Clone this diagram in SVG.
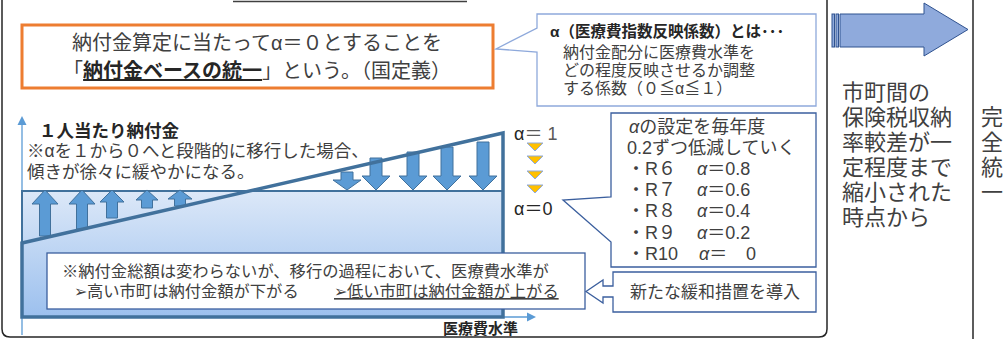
<svg xmlns="http://www.w3.org/2000/svg" width="1008" height="339" viewBox="0 0 1008 339">
<defs>
<linearGradient id="gfill" x1="0" y1="0" x2="0" y2="1">
<stop offset="0" stop-color="#dce8f8"/>
<stop offset="1" stop-color="#9cc0ee"/>
</linearGradient>
<style>
.t{font-family:"Liberation Sans","Noto Sans CJK JP",sans-serif;fill:#404040}
.b{font-weight:bold}
.dk{fill:#262626}
.arr{fill:#5b9bd5;stroke:#41719c;stroke-width:1}
.tri{fill:#ffc000;stroke:#8faadc;stroke-width:1}
.frame{fill:none;stroke:#262626;stroke-width:1.5}
</style>
</defs>
<rect width="1008" height="339" fill="#ffffff"/>

<!-- frames -->
<g id="frames">
<path class="frame" d="M2,-5 V329 Q2,337 10,337 H819 Q827,337 827,329 V-5"/>
<line x1="973" y1="-5" x2="973" y2="345" stroke="#262626" stroke-width="1.5"/>
<line x1="233" y1="1.5" x2="467" y2="1.5" stroke="#404040" stroke-width="1.5"/>
</g>

<!-- definition box -->
<g id="definition">
<rect x="22" y="25" width="471" height="63" fill="#ffffff" stroke="#ed7d31" stroke-width="3"/>
<text class="t" x="257" y="50" font-size="20" text-anchor="middle">納付金算定に当たってα＝０とすることを</text>
<text class="t" x="257" y="78" font-size="20" text-anchor="middle">「<tspan class="b dk" text-decoration="underline">納付金ベースの統一</tspan>」という。（国定義）</text>
</g>

<!-- alpha callout -->
<g id="alpha-callout">
<path d="M537,14 H816 V106 H537 V52 L496,49 L537,28 Z" fill="#ffffff" stroke="#8ea9db" stroke-width="1.3"/>
<text class="t b dk" x="550" y="37" font-size="15.5">α（医療費指数反映係数）とは･･･</text>
<text class="t" x="563" y="58" font-size="16" fill="#595959">納付金配分に医療費水準を</text>
<text class="t" x="563" y="76" font-size="16">どの程度反映させるか調整</text>
<text class="t" x="563" y="94" font-size="16">する係数（０≦α≦１）</text>
</g>

<!-- chart -->
<g id="chart">
<line x1="22" y1="335" x2="22" y2="124" stroke="#5b9bd5" stroke-width="1.3"/>
<polygon points="22,116 26.5,125 17.5,125" fill="#5b9bd5"/>
<line x1="22" y1="317" x2="528" y2="317" stroke="#5b9bd5" stroke-width="1.3"/>
<polygon points="536,317 527,312.5 527,321.5" fill="#5b9bd5"/>
<rect x="22" y="191" width="481" height="126" fill="url(#gfill)"/>
<path d="M22,243 V191 H503" fill="none" stroke="#41719c" stroke-width="2"/>
<g id="up-arrows">
<polygon class="arr" points="45,190 58,204 50.5,204 50.5,236 39.5,236 39.5,204 32,204"/>
<polygon class="arr" points="82,190 95,204 87.5,204 87.5,229 76.5,229 76.5,204 69,204"/>
<polygon class="arr" points="112,190 124,202 117.5,202 117.5,218 106.5,218 106.5,202 100,202"/>
<polygon class="arr" points="147,190 158,200 152.5,200 152.5,208 141.5,208 141.5,200 136,200"/>
<polygon class="arr" points="180,190 192,199 185.5,199 185.5,206 174.5,206 174.5,199 168,199"/>
</g>
<g id="down-arrows">
<polygon class="arr" points="341,172 353,172 353,180 361,180 347,190 333,180 341,180"/>
<polygon class="arr" points="370,158 382,158 382,176 390,176 376,190 362,176 370,176"/>
<polygon class="arr" points="407,152 419,152 419,176 427,176 413,190 399,176 407,176"/>
<polygon class="arr" points="441,147 453,147 453,176 461,176 447,190 433,176 441,176"/>
<polygon class="arr" points="477,142 489,142 489,176 497,176 483,190 469,176 477,176"/>
</g>
<path d="M22,243 L503,133 V317 H22 Z" fill="none" stroke="#41719c" stroke-width="3.5" stroke-linejoin="miter"/>
<text class="t b dk" x="39" y="136.5" font-size="17.5">１人当たり納付金</text>
<text class="t" x="27" y="157" font-size="17.5">※αを１から０へと段階的に移行した場合、</text>
<text class="t" x="27" y="178" font-size="17.5">傾きが徐々に緩やかになる。</text>
<text class="t b dk" x="443" y="334" font-size="15">医療費水準</text>
</g>

<!-- alpha scale -->
<g id="alpha-scale">
<text class="t" x="514" y="140" font-size="18"><tspan class="dk">α</tspan><tspan fill="#595959">＝ 1</tspan></text>
<polygon class="tri" points="527,143 543,143 535,151"/>
<polygon class="tri" points="527,156 543,156 535,164"/>
<polygon class="tri" points="527,171 543,171 535,179"/>
<polygon class="tri" points="527,185 543,185 535,193"/>
<text class="t" x="514" y="215" font-size="18"><tspan class="dk">α</tspan><tspan class="dk">＝0</tspan></text>
</g>

<!-- schedule callout -->
<g id="schedule-callout">
<path d="M611,113 H816 V267 H611 V242 L563,200 L611,197 Z" fill="#ffffff" stroke="#3b5f9e" stroke-width="1.3"/>
<text class="t" x="629" y="133" font-size="18"><tspan font-style="italic">α</tspan>の設定を毎年度</text>
<text class="t" x="627" y="154" font-size="18">0.2ずつ低減していく</text>
<text class="t" x="627" y="175" font-size="18">・R６<tspan x="697" font-style="italic">α</tspan>＝0.8</text>
<text class="t" x="627" y="196" font-size="18">・R７<tspan x="697" font-style="italic">α</tspan>＝0.6</text>
<text class="t" x="627" y="217" font-size="18">・R８<tspan x="697" font-style="italic">α</tspan>＝0.4</text>
<text class="t" x="627" y="239" font-size="18">・R９<tspan x="697" font-style="italic">α</tspan>＝0.2</text>
<text class="t" x="627" y="260" font-size="18">・R10<tspan x="699" font-style="italic">α</tspan>＝<tspan x="746">0</tspan></text>
</g>

<!-- new measure -->
<g id="new-measure">
<path d="M613,272 H816 V312 H613 V297 H603 V303 L586,291.5 L603,280 V286 H613 Z" fill="#ffffff" stroke="#3b5f9e" stroke-width="1.3"/>
<text class="t" x="630" y="297.5" font-size="17" fill="#595959">新たな緩和措置を導入</text>
</g>

<!-- note -->
<g id="note">
<rect x="47" y="253" width="538" height="56" fill="#ffffff" stroke="#3b5f9e" stroke-width="1.3"/>
<text class="t" x="62" y="276.5" font-size="16.3">※納付金総額は変わらないが、移行の過程において、医療費水準が</text>
<text class="t" x="74" y="297" font-size="16.3">➢高い市町は納付金額が下がる</text>
<text class="t" x="334" y="297" font-size="16.3" text-decoration="underline">➢低い市町は納付金額が上がる</text>
</g>

<!-- transition arrow -->
<g id="transition-arrow">
<rect x="832" y="14" width="2.5" height="33" fill="#8faadc" stroke="#2f528f" stroke-width="1"/>
<rect x="836" y="14" width="2.5" height="33" fill="#8faadc" stroke="#2f528f" stroke-width="1"/>
<polygon points="840,14 924,14 924,3 968,29.5 924,56 924,47 840,47" fill="#8faadc" stroke="#2f528f" stroke-width="1"/>
</g>

<!-- condition -->
<g id="condition">
<text class="t" x="842" y="100" font-size="22">市町間の</text>
<text class="t" x="842" y="125" font-size="22">保険税収納</text>
<text class="t" x="842" y="150" font-size="22">率較差が一</text>
<text class="t" x="842" y="175" font-size="22">定程度まで</text>
<text class="t" x="842" y="200" font-size="22">縮小された</text>
<text class="t" x="842" y="225" font-size="22">時点から</text>
</g>

<!-- full unification -->
<g id="full-unification">
<text class="t" x="992" y="125" font-size="22" text-anchor="middle">完</text>
<text class="t" x="992" y="150" font-size="22" text-anchor="middle">全</text>
<text class="t" x="992" y="175" font-size="22" text-anchor="middle">統</text>
<text class="t" x="992" y="200" font-size="22" text-anchor="middle">一</text>
</g>
</svg>
